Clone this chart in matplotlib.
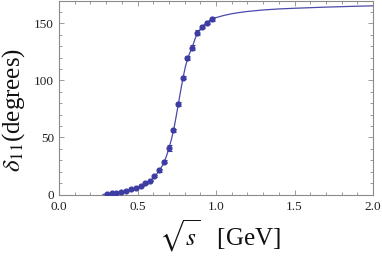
import numpy as np
import matplotlib
matplotlib.use("Agg")
import matplotlib.pyplot as plt
from matplotlib.ticker import MultipleLocator

# -----------------------------
# data
# -----------------------------
pts_x = [0.304, 0.336, 0.363, 0.395, 0.427, 0.457, 0.488, 0.520, 0.549, 0.580,
         0.607, 0.637, 0.669, 0.701, 0.728, 0.760, 0.788, 0.817, 0.849, 0.877,
         0.909, 0.941, 0.973]
pts_y = [0.6, 1.0, 1.6, 2.3, 3.2, 4.4, 5.9, 7.7, 9.8, 12.2,
         16.2, 21.3, 28.7, 40.8, 56.3, 79.4, 102.5, 119.5, 128.8, 141.9,
         147.2, 150.7, 153.7]
pts_err = [0.3, 0.3, 0.3, 0.4, 0.4, 0.5, 0.5, 0.6, 0.7, 0.8,
           1.0, 1.2, 1.5, 2.5, 1.5, 1.5, 1.5, 1.5, 2.5, 2.5,
           1.5, 1.5, 1.5]

fit_x = [0.28, 0.30, 0.34, 0.38, 0.42, 0.46, 0.50, 0.54, 0.58, 0.61,
         0.64, 0.67, 0.685, 0.70, 0.715, 0.73, 0.745, 0.76, 0.775, 0.79,
         0.805, 0.82, 0.835, 0.85, 0.865, 0.88, 0.91, 0.94, 0.97, 1.00,
         1.05, 1.10, 1.15, 1.20, 1.30, 1.40, 1.50, 1.60, 1.70, 1.80,
         1.90, 2.00]
fit_y = [0.0, 0.5, 1.1, 1.9, 2.9, 4.3, 6.0, 8.3, 11.8, 15.8,
         21.0, 28.2, 33.8, 40.6, 47.8, 56.3, 67.5, 79.2, 91.0, 102.3,
         112.0, 119.3, 124.8, 129.5, 135.8, 141.2, 146.8, 150.6, 153.4, 155.0,
         156.9, 158.4, 159.5, 160.4, 161.7, 162.6, 163.2, 163.7, 164.2, 164.6,
         165.0, 165.3]

x_ticks = [0.0, 0.5, 1.0, 1.5, 2.0]
y_ticks = [0, 50, 100, 150]

# -----------------------------
# style
# -----------------------------
plt.rcParams["font.family"] = ["Liberation Serif", "DejaVu Serif"]
plt.rcParams["mathtext.fontset"] = "stix"

blue = "#3c3ca2"
frame = "#8a8a8a"

fig = plt.figure(figsize=(3.82, 2.56), dpi=100)
ax = fig.add_axes([59 / 382, 1 - 194.5 / 256, 314 / 382, 194 / 256])

# fit curve
ax.plot(fit_x, fit_y, color="#4a4aaa", linewidth=0.9, zorder=2)

# data points with error bars
ax.errorbar(pts_x, pts_y, yerr=pts_err, fmt="o", color=blue,
            markersize=3.4, elinewidth=0.8, capsize=1.8, capthick=0.8,
            zorder=3)

# -----------------------------
# axes
# -----------------------------
ax.set_xlim(0, 2.0)
ax.set_ylim(0, 170)
ax.set_xticks(x_ticks)
ax.set_xticklabels([f"{v:.1f}" for v in x_ticks])
ax.set_yticks(y_ticks)
ax.xaxis.set_minor_locator(MultipleLocator(0.1))
ax.yaxis.set_minor_locator(MultipleLocator(10))

for s in ax.spines.values():
    s.set_color(frame)
    s.set_linewidth(0.8)

ax.tick_params(which="both", direction="in", top=True, right=True,
               color=frame, width=0.6, labelsize=9.5, labelcolor="#222222")
ax.tick_params(which="major", length=3.8)
ax.tick_params(which="minor", length=2.0)
ax.tick_params(axis="x", pad=4.5)
ax.tick_params(axis="y", pad=3.5)

fig.text(0.036, 0.57, r"$\delta_{11}$(degrees)", rotation=90,
         ha="center", va="center", fontsize=18, color="#111111")
fig.text(0.576, 0.078, r"$\sqrt{s}$   [GeV]", ha="center", va="center",
         fontsize=18, color="#111111")

fig.savefig("out.png", dpi=100)
plt.close(fig)
